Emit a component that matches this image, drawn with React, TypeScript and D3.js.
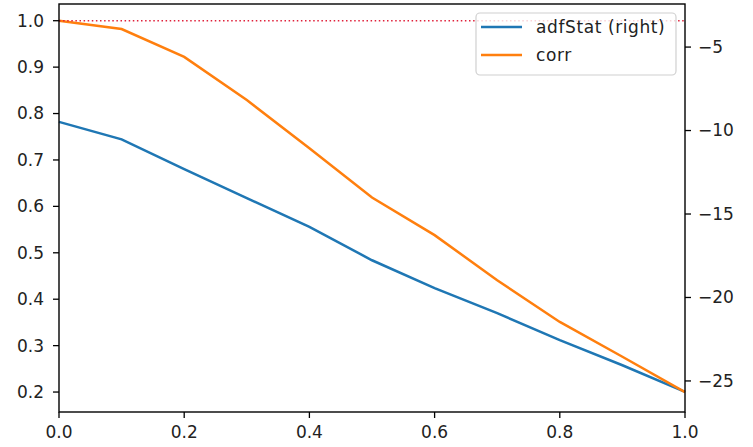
import React from "react";
import * as d3 from "d3";

const xs = [0, 0.1, 0.2, 0.3, 0.4, 0.5, 0.6, 0.7, 0.8, 0.9, 1.0];
const corr = [1.0, 0.982, 0.922, 0.829, 0.725, 0.619, 0.538, 0.441, 0.351, 0.276, 0.2];
const adfStat = [-9.48, -10.53, -12.31, -14.05, -15.77, -17.77, -19.44, -20.94, -22.56, -24.06, -25.66];
const xTicks = [0, 0.2, 0.4, 0.6, 0.8, 1.0];
const leftTicks = [0.2, 0.3, 0.4, 0.5, 0.6, 0.7, 0.8, 0.9, 1.0];
const rightTicks = [-25, -20, -15, -10, -5];
const refLevel = 1.0;
const legendLabels = ["adfStat (right)", "corr"];

const W = 753, H = 447;
const L = 59, R = 685, T = 4, B = 412;
const BLUE = "#1f77b4", ORANGE = "#ff7f0e";
const FONT = "DejaVu Sans, sans-serif";
const FS = 17;

export default function App() {
  const x = d3.scaleLinear().domain([0, 1]).range([L, R]);
  const yL = d3.scaleLinear().domain([0.157, 1.036]).range([B, T]);
  const yR = d3.scaleLinear().domain([-26.86, -2.42]).range([B, T]);
  const lineL = d3.line<number>().x((_, i) => x(xs[i])).y((d) => yL(d));
  const lineR = d3.line<number>().x((_, i) => x(xs[i])).y((d) => yR(d));
  const fmtMinus = (v: number) => (v < 0 ? "\u2212" + Math.abs(v) : String(v));
  const lgX = 476, lgY = 13, lgW = 200, lgH = 62;
  return (
    <svg width={W} height={H} style={{ position: "fixed", left: 0, top: 0, background: "#fff" }} fontFamily={FONT}>
      <rect x={0} y={0} width={W} height={H} fill="#fff" />
      <path d={lineR(adfStat) || ""} fill="none" stroke={BLUE} strokeWidth={2.5} />
      <path d={lineL(corr) || ""} fill="none" stroke={ORANGE} strokeWidth={2.5} />
      <line x1={L} x2={R} y1={yL(refLevel)} y2={yL(refLevel)} stroke="#e0203a" strokeWidth={1.4} strokeDasharray="1.5,2.6" />
      <rect x={L} y={T} width={R - L} height={B - T} fill="none" stroke="#000" strokeWidth={1.4} />
      {xTicks.map((t) => (
        <g key={"x" + t}>
          <line x1={x(t)} x2={x(t)} y1={B} y2={B + 6} stroke="#000" strokeWidth={1.3} />
          <text x={x(t)} y={B + 26} fontSize={FS} textAnchor="middle" fill="#222">{t.toFixed(1)}</text>
        </g>
      ))}
      {leftTicks.map((t) => (
        <g key={"l" + t}>
          <line x1={L - 6} x2={L} y1={yL(t)} y2={yL(t)} stroke="#000" strokeWidth={1.3} />
          <text x={L - 15} y={yL(t)} dy="0.35em" fontSize={FS} textAnchor="end" fill="#222">{t.toFixed(1)}</text>
        </g>
      ))}
      {rightTicks.map((t) => (
        <g key={"r" + t}>
          <line x1={R} x2={R + 6} y1={yR(t)} y2={yR(t)} stroke="#000" strokeWidth={1.3} />
          <text x={R + 13} y={yR(t)} dy="0.35em" fontSize={FS} textAnchor="start" fill="#222">{fmtMinus(t)}</text>
        </g>
      ))}
      <rect x={lgX} y={lgY} width={lgW} height={lgH} rx={4} fill="#fff" fillOpacity={0.8} stroke="#d0d0d0" strokeWidth={1.2} />
      {legendLabels.map((lab, i) => {
        const yy = lgY + 14 + i * 28;
        return (
          <g key={lab}>
            <line x1={lgX + 5} x2={lgX + 46} y1={yy} y2={yy} stroke={i === 0 ? BLUE : ORANGE} strokeWidth={2.5} />
            <text x={lgX + 60} y={yy} dy="0.35em" fontSize={FS} letterSpacing={0.6} fill="#222">{lab}</text>
          </g>
        );
      })}
    </svg>
  );
}
